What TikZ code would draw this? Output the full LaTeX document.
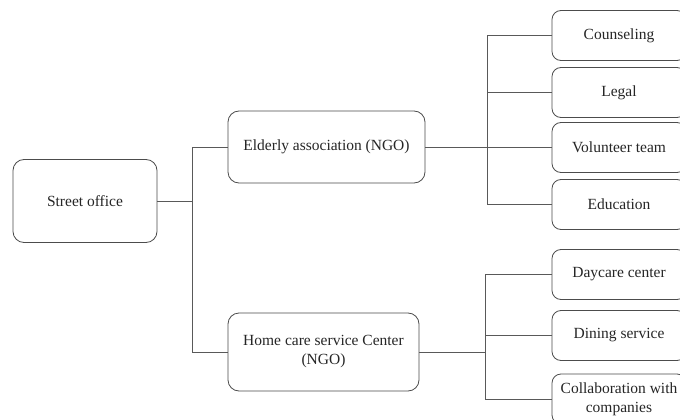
\documentclass[tikz,border=0pt]{standalone}
\usepackage{fontspec}
\setmainfont{Liberation Serif}
\begin{document}
\begin{tikzpicture}[x=1pt,y=-1pt,
  box/.style={draw=black!70, line width=0.8pt, rounded corners=11pt, align=center,
    inner sep=0pt, text=black!85, font=\fontsize{15.5}{19}\selectfont},
  leaf/.style={box, minimum width=134pt, minimum height=50pt, rounded corners=9pt},
  conn/.style={draw=black!65, line width=0.8pt}]
\useasboundingbox (0,0) rectangle (680,420);
\clip (0,0) rectangle (680,420);
\fill[white] (0,0) rectangle (680,420);
% nodes
\node[box, minimum width=144pt, minimum height=83pt] (street) at (85,201) {Street office};
\node[box, minimum width=197pt, minimum height=72pt] (elderly) at (326.5,147) {Elderly association (NGO)};
\node[box, minimum width=191pt, minimum height=78pt] (home) at (323.5,352) {Home care service Center\\(NGO)};
\node[leaf] (couns) at (619,35.5) {Counseling};
\node[leaf] (legal) at (619,92.5) {Legal};
\node[leaf] (vol) at (619,147.5) {Volunteer team};
\node[leaf] (edu) at (619,204.5) {Education};
\node[leaf] (day) at (619,274.5) {Daycare center};
\node[leaf] (dine) at (619,335.5) {Dining service};
\node[leaf] (collab) at (619,399) {Collaboration with\\companies};
% bus coordinates
\coordinate (busL) at (192,201);
\coordinate (busT) at (487,147);
\coordinate (busB) at (485,352);
% connectors
\draw[conn] (street.east) -- (busL);
\draw[conn] (busL) |- (elderly.west);
\draw[conn] (busL) |- (home.west);
\draw[conn] (elderly.east) -- (busT);
\foreach \n in {couns,legal,vol,edu} \draw[conn] (busT) |- (\n.west);
\draw[conn] (home.east) -- (busB);
\foreach \n in {day,dine,collab} \draw[conn] (busB) |- (\n.west);
\end{tikzpicture}
\end{document}
